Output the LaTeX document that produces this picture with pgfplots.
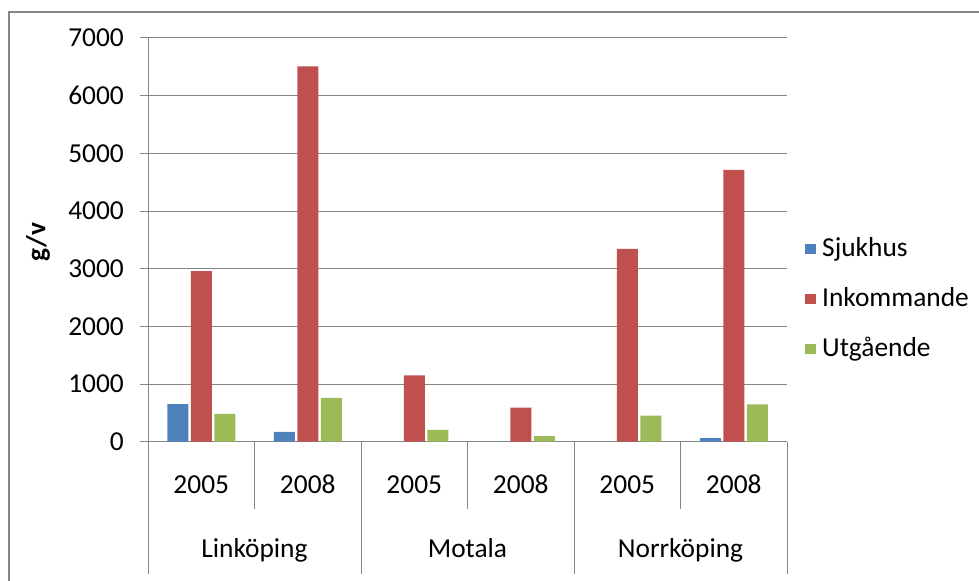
\documentclass[border=0pt]{standalone}
\usepackage{pgfplots}
\pgfplotsset{compat=1.18}
\usepackage{fontspec}
\setmainfont{Carlito}

\definecolor{cblue}{HTML}{4F81BD}
\definecolor{cred}{HTML}{C0504D}
\definecolor{cgreen}{HTML}{9BBB59}
\definecolor{cgrid}{HTML}{868686}

\begin{document}
\fontsize{27.5}{33}\selectfont
\begin{tikzpicture}
\path[use as bounding box] (0,0) rectangle (979bp,581bp);
\draw[cgrid, line width=1.2bp] (9bp,-10bp) -- (9bp,569bp) -- (995bp,569bp);

\begin{axis}[
    at={(148bp,139.3bp)}, anchor=south west,
    scale only axis,
    width=639bp, height=403.7bp, % plot area
    xmin=-0.5, xmax=5.5,
    ymin=0, ymax=7000,
    clip=false,
    ybar=2.5bp, bar width=21bp,
    axis lines*=left,
    axis line style={cgrid, line width=1bp},
    ymajorgrids, grid style={cgrid, line width=1bp},
    tick align=outside,
    ytick={0,1000,...,7000},
    yticklabels={0,1000,2000,3000,4000,5000,6000,7000},
    y tick style={cgrid, line width=1bp},
    major tick length=8bp,
    yticklabel style={anchor=east, inner sep=0pt, xshift=-16bp},
    xtick={0,...,5},
    xticklabels={2005,2008,2005,2008,2005,2008},
    x tick style={draw=none},
    xticklabel style={anchor=base, inner sep=0pt, yshift=-43.5bp},
    font=\fontsize{27.5}{33}\selectfont,
    legend style={at={(1,0.353)}, anchor=west, xshift=18bp,
        draw=none, fill=none, inner sep=0pt, row sep=20bp, column sep=4bp,
        nodes={inner sep=2bp, text height=20bp, text depth=6bp},
        font=\fontsize{27.5}{33}\selectfont},
    legend cell align=left,
    legend image code/.code={\fill[#1] (0bp,-5bp) rectangle (11bp,5bp);},
]
\addplot[fill=cblue, draw=none] coordinates {(0,650) (1,170) (2,0) (3,0) (4,0) (5,63)};
\addplot[fill=cred, draw=none] coordinates {(0,2957) (1,6506) (2,1149) (3,592) (4,3345) (5,4714)};
\addplot[fill=cgreen, draw=none] coordinates {(0,482) (1,759) (2,207) (3,98) (4,454) (5,649)};
\legend{Sjukhus,Inkommande,Utgående}

% category separators
\pgfplotsinvokeforeach{0.5,2.5,4.5}{
    \draw[cgrid, line width=1bp] (axis cs:#1,0) -- ([yshift=-67bp]axis cs:#1,0);
}
\pgfplotsinvokeforeach{-0.5,1.5,3.5,5.5}{
    \draw[cgrid, line width=1bp] (axis cs:#1,0) -- ([yshift=-132bp]axis cs:#1,0);
}
\node[anchor=base, inner sep=0pt, yshift=-116bp] at (axis cs:0.5,0) {Linköping};
\node[anchor=base, inner sep=0pt, yshift=-116bp] at (axis cs:2.5,0) {Motala};
\node[anchor=base, inner sep=0pt, yshift=-116bp] at (axis cs:4.5,0) {Norrköping};
\end{axis}

\node[rotate=90, font=\bfseries] at (38bp,339bp) {g/v};
\end{tikzpicture}
\end{document}
